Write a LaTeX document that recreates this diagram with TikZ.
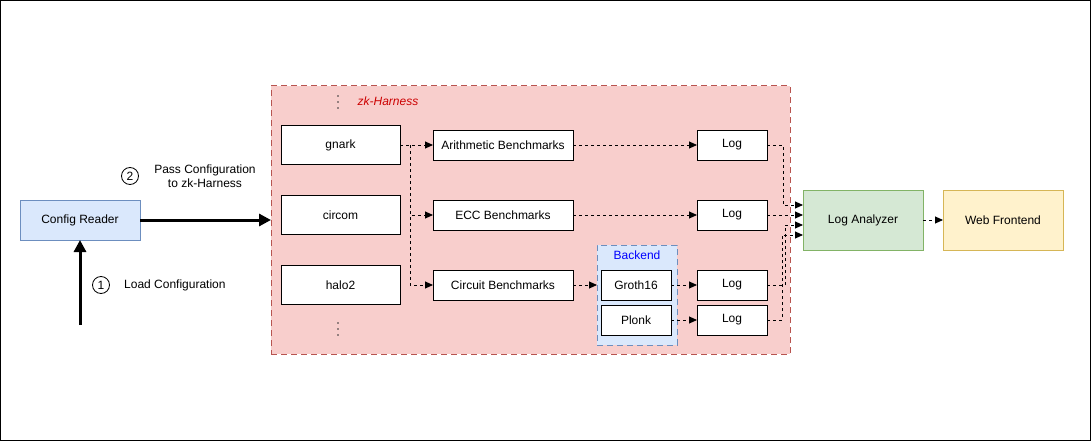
\documentclass[tikz,border=0pt]{standalone}
\usepackage{fontspec}
\setmainfont{Liberation Sans}
\usetikzlibrary{arrows.meta}
\definecolor{redfill}{HTML}{F8CECC}
\definecolor{redline}{HTML}{B85450}
\definecolor{bluefill}{HTML}{DAE8FC}
\definecolor{blueline}{HTML}{6C8EBF}
\definecolor{greenfill}{HTML}{D5E8D4}
\definecolor{greenline}{HTML}{82B366}
\definecolor{yellowfill}{HTML}{FFF2CC}
\definecolor{yellowline}{HTML}{D6B656}
\definecolor{harnesstext}{HTML}{CC0000}
\definecolor{backendtext}{HTML}{0000FF}
\tikzset{
  base/.style={draw=black, fill=white, line width=1pt, inner sep=0pt, outer sep=0pt},
  srcbox/.style={base, minimum width=119pt, minimum height=39pt},
  benchbox/.style={base, minimum width=140pt, minimum height=30pt},
  logbox/.style={base, minimum width=70pt, minimum height=30pt},
  bigbox/.style={base, minimum width=120pt, minimum height=60pt},
  numcirc/.style={draw=black, fill=white, circle, line width=0.8pt, minimum size=17pt, inner sep=0pt},
  conn/.style={draw=black, line width=0.9pt, dash pattern=on 3pt off 3pt, -{Triangle[length=8pt,width=7pt]}},
  thickarrow/.style={draw=black, line width=3pt, -{Triangle[length=12pt,width=12pt]}},
  txt/.style={inner sep=0pt},
  vdot/.style={fill=black!80, draw=none}
}
\begin{document}
\begin{tikzpicture}[x=1pt, y=-1pt, font=\fontsize{12}{14.5}\selectfont]
\useasboundingbox (0,0) rectangle (1091,441);
\draw[black, line width=1.2pt] (0.6,0.6) rectangle (1090.2,440.2);

% harness group
\node[draw=redline, fill=redfill, line width=1pt, dash pattern=on 6pt off 4pt, minimum width=519pt, minimum height=268pt, inner sep=0pt, outer sep=0pt] (harness) at (530.5,220) {};
\node[txt, text=harnesstext, font=\fontsize{12}{14}\selectfont\itshape] (hlabel) at (388,101) {zk-Harness};
\foreach \yy in {96,102,108} {\fill[vdot] (338,\yy) circle (0.9pt);}
\foreach \yy in {323,329,335} {\fill[vdot] (338,\yy) circle (0.9pt);}

% sources
\node[srcbox] (gnark) at (340.5,145) {gnark};
\node[srcbox] (circom) at (340.5,215) {circom};
\node[srcbox] (halo2) at (340.5,285) {halo2};

% benchmarks
\node[benchbox] (arith) at (503,145) {Arithmetic Benchmarks};
\node[benchbox] (ecc) at (503,215) {ECC Benchmarks};
\node[benchbox] (circuit) at (503,285) {Circuit Benchmarks};

% backend group
\node[draw=blueline, fill=bluefill, line width=1pt, dash pattern=on 6pt off 4pt, minimum width=80pt, minimum height=100pt, inner sep=0pt, outer sep=0pt] (backend) at (637,295) {};
\node[txt, text=backendtext] (blabel) at (637,255) {Backend};
\node[logbox] (groth) at (636,285) {Groth16};
\node[logbox] (plonk) at (636,320) {Plonk};

% logs
\node[logbox] (log1) at (732,145) {Log};
\node[logbox] (log2) at (732,215) {Log};
\node[logbox] (log3) at (732,285) {Log};
\node[logbox] (log4) at (732,320) {Log};

% analyzer & frontend
\node[bigbox, draw=greenline, fill=greenfill] (analyzer) at (863,220) {Log Analyzer};
\node[bigbox, draw=yellowline, fill=yellowfill] (web) at (1003,220) {Web Frontend};

% config reader
\node[base, draw=blueline, fill=bluefill, minimum width=120pt, minimum height=40pt] (cr) at (80,220) {Config Reader};

% labels
\node[numcirc] (n1) at (101,285) {1};
\node[txt, anchor=west] (l1) at (124,285) {Load Configuration};
\node[numcirc] (n2) at (130,176) {2};
\node[txt, align=center] (l2) at (205,176) {Pass Configuration\\to zk-Harness};

% thick arrows
\coordinate (crin) at (80,325);
\draw[thickarrow] (crin) -- (cr.south);
\draw[thickarrow] (cr.east) -- (harness.west |- cr.east);

% gnark fan-out
\coordinate (split) at (410,145);
\draw[conn] (gnark.east) -- (arith.west);
\draw[conn] (split) |- (ecc.west);
\draw[conn] (split) |- (circuit.west);

% benchmarks to logs
\draw[conn] (arith.east) -- (log1.west);
\draw[conn] (ecc.east) -- (log2.west);
\draw[conn] (circuit.east) -- (backend.west |- circuit.east);
\draw[conn] (groth.east) -- (log3.west);
\draw[conn] (plonk.east) -- (log4.west);

% logs to analyzer
\draw[conn] (log1.east) -- ++(16,0) |- ([yshift=15pt]analyzer.west);
\draw[conn] (log2.east) -- ([yshift=5pt]analyzer.west);
\draw[conn] (log3.east) -- ++(18,0) |- ([yshift=-5pt]analyzer.west);
\draw[conn] (log4.east) -- ++(15,0) |- ([yshift=-15pt]analyzer.west);

% analyzer to frontend
\draw[conn] (analyzer.east) -- (web.west);
\end{tikzpicture}
\end{document}
